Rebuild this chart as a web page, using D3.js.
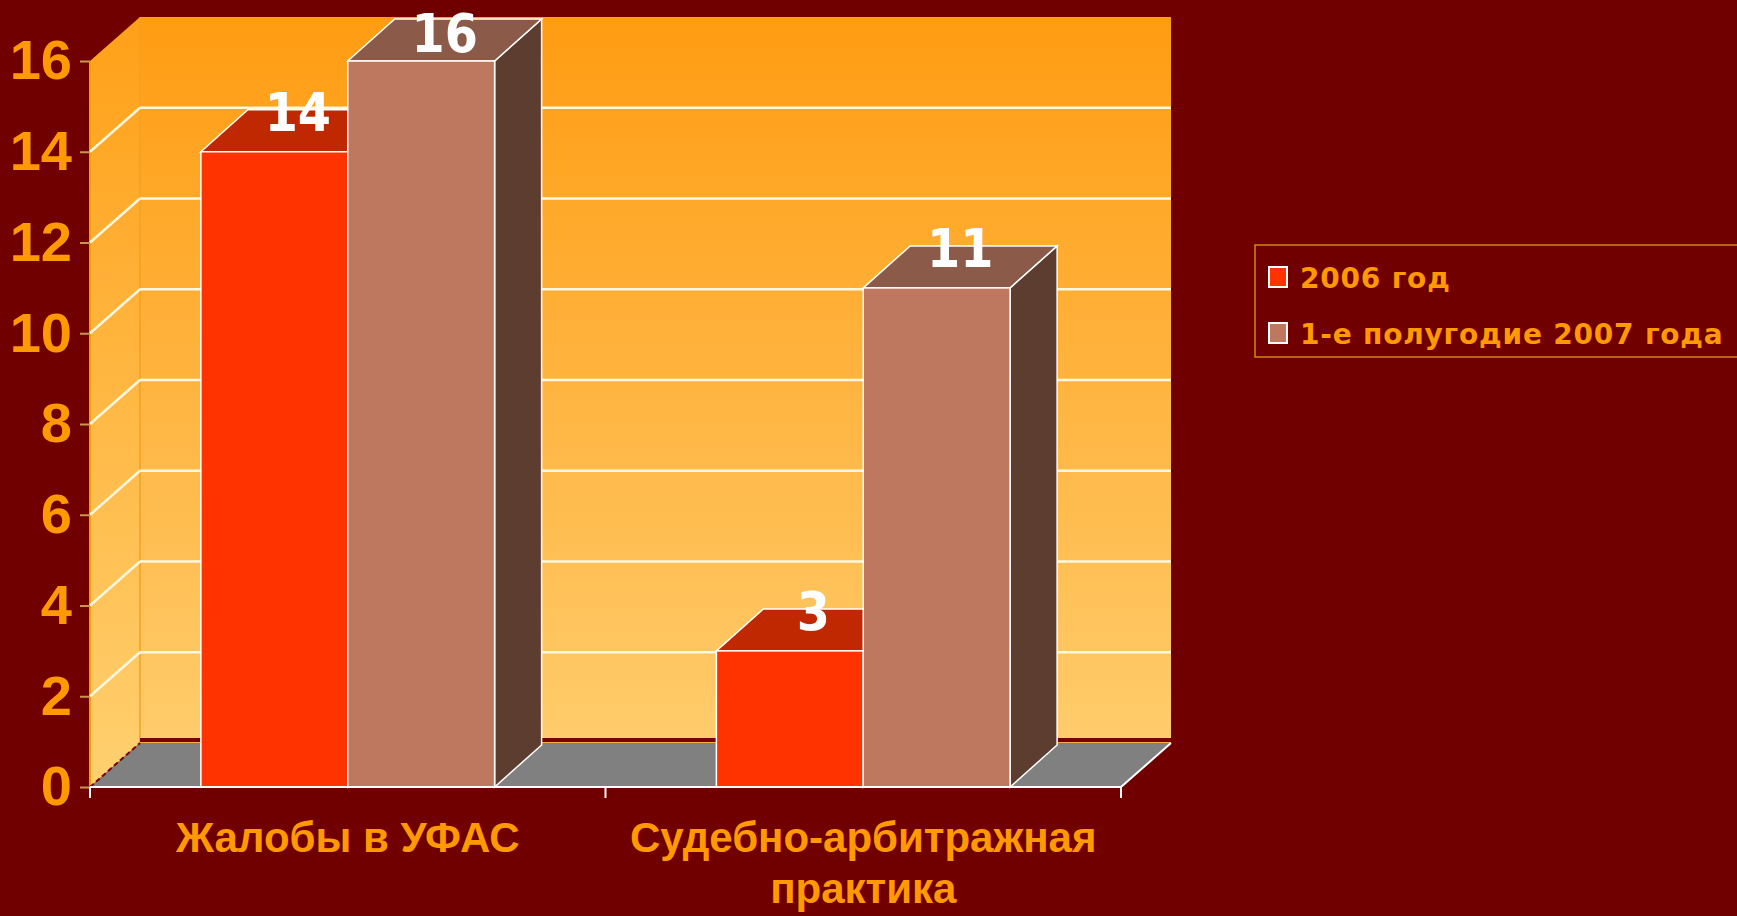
<!DOCTYPE html>
<html>
<head>
<meta charset="utf-8">
<script src="https://cdn.jsdelivr.net/npm/d3@7"></script>
<style>
  body { margin: 0; background: #700000; }
  svg { display: block; }
</style>
</head>
<body>
<div id="grafico"></div>
<script>
// dados
const categorias = ['Жалобы в УФАС', 'Судебно-арбитражная\nпрактика'];
const series = ['2006 год', '1-е полугодие 2007 года'];
const valores2006 = [14, 3];
const valores2007 = [16, 11];
const ticksY = [0, 2, 4, 6, 8, 10, 12, 14, 16];

const cores = [
  { frente: '#FF3300', topo: '#BF2800', lado: '#9A2000' },
  { frente: '#BF7860', topo: '#8C5A48', lado: '#5E3D31' }
];

// configurações
const largura = 1737;
const altura = 916;
const plano = { left: 90, right: 1121, top: 61, bottom: 787 };
const parede = { dx: 50, dy: -44 };
const prof = { dx: 47, dy: -42 };

const svg = d3.select('#grafico')
  .append('svg')
  .attr('width', largura)
  .attr('height', altura);

const y = d3.scaleLinear().domain([0, 16]).range([plano.bottom, plano.top]);
const x0 = d3.scaleBand().domain(categorias).range([plano.left, plano.right]);
const x1 = d3.scaleBand().domain(series).range([0, x0.bandwidth()]).paddingOuter(0.755);

const defs = svg.append('defs');
const grad = defs.append('linearGradient')
  .attr('id', 'fundo')
  .attr('gradientUnits', 'userSpaceOnUse')
  .attr('x1', 0).attr('x2', 0)
  .attr('y1', y(16) + parede.dy).attr('y2', y(0) + parede.dy);
grad.append('stop').attr('offset', 0).attr('stop-color', '#FF9C12');
grad.append('stop').attr('offset', 1).attr('stop-color', '#FFCC6C');

const gradLado = defs.append('linearGradient')
  .attr('id', 'lado')
  .attr('gradientUnits', 'userSpaceOnUse')
  .attr('x1', 0).attr('x2', 0)
  .attr('y1', y(16) + parede.dy).attr('y2', y(0));
gradLado.append('stop').attr('offset', 0).attr('stop-color', '#FFA018');
gradLado.append('stop').attr('offset', 1).attr('stop-color', '#FFD070');

const pts = (arr) => arr.map((p) => p.join(',')).join(' ');

// parede do fundo
const xb0 = plano.left + parede.dx;
const xb1 = plano.right + parede.dx;
svg.append('rect')
  .attr('x', xb0)
  .attr('y', y(16) + parede.dy)
  .attr('width', xb1 - xb0)
  .attr('height', y(0) - y(16))
  .attr('fill', 'url(#fundo)');

// parede lateral
svg.append('polygon')
  .attr('points', pts([
    [plano.left, y(0)], [plano.left, y(16)],
    [xb0, y(16) + parede.dy], [xb0, y(0) + parede.dy]
  ]))
  .attr('fill', 'url(#lado)');
svg.append('line')
  .attr('x1', xb0).attr('x2', xb0)
  .attr('y1', y(16) + parede.dy).attr('y2', y(0) + parede.dy)
  .attr('stroke', '#F4A020').attr('stroke-width', 1.5);
svg.append('line')
  .attr('x1', plano.left).attr('x2', plano.left)
  .attr('y1', y(16)).attr('y2', y(0))
  .attr('stroke', '#F0A000').attr('stroke-width', 2);

// linhas de grade
const grade = ticksY.filter((t) => t > 0 && t < 16);
svg.selectAll('.grade')
  .data(grade)
  .enter()
  .append('line')
  .attr('class', 'grade')
  .attr('x1', xb0).attr('x2', xb1)
  .attr('y1', (d) => y(d) + parede.dy).attr('y2', (d) => y(d) + parede.dy)
  .attr('stroke', '#FFF8E0').attr('stroke-width', 2.5);
svg.selectAll('.grade-lado')
  .data(grade)
  .enter()
  .append('line')
  .attr('class', 'grade-lado')
  .attr('x1', plano.left).attr('x2', xb0)
  .attr('y1', (d) => y(d)).attr('y2', (d) => y(d) + parede.dy)
  .attr('stroke', '#FFF8E0').attr('stroke-width', 2.5);

// faixa escura no fundo do piso
svg.append('rect')
  .attr('x', xb0).attr('y', y(0) + parede.dy - 5)
  .attr('width', xb1 - xb0).attr('height', 4)
  .attr('fill', '#7A0000');
svg.append('line')
  .attr('x1', xb0).attr('x2', xb1)
  .attr('y1', y(0) + parede.dy).attr('y2', y(0) + parede.dy)
  .attr('stroke', '#F0A030').attr('stroke-width', 1.5);

// piso
svg.append('polygon')
  .attr('points', pts([
    [plano.left, y(0)], [plano.right, y(0)],
    [xb1, y(0) + parede.dy], [xb0, y(0) + parede.dy]
  ]))
  .attr('fill', '#808080');
svg.append('line')
  .attr('x1', plano.right).attr('y1', y(0))
  .attr('x2', xb1).attr('y2', y(0) + parede.dy)
  .attr('stroke', '#FFFFFF').attr('stroke-width', 2);
svg.append('line')
  .attr('x1', plano.left).attr('y1', y(0))
  .attr('x2', xb0).attr('y2', y(0) + parede.dy)
  .attr('stroke', '#7A0000').attr('stroke-width', 2)
  .attr('stroke-dasharray', '5,3');

// barras
const dados = categorias.map((c, i) => ({
  cat: c,
  barras: [
    { serie: series[0], valor: valores2006[i], cor: cores[0] },
    { serie: series[1], valor: valores2007[i], cor: cores[1] }
  ]
}));

const grupos = svg.selectAll('.grupo')
  .data(dados)
  .enter()
  .append('g')
  .attr('class', 'grupo');

grupos.each(function (g) {
  const grupo = d3.select(this);
  g.barras.forEach((b) => {
    const xl = x0(g.cat) + x1(b.serie);
    const xr = xl + x1.bandwidth();
    const yt = y(b.valor);
    const yb = y(0);
    grupo.append('polygon')
      .attr('points', pts([[xr, yt], [xr + prof.dx, yt + prof.dy], [xr + prof.dx, yb + prof.dy], [xr, yb]]))
      .attr('fill', b.cor.lado)
      .attr('stroke', '#FFFFFF').attr('stroke-width', 1.5);
    grupo.append('polygon')
      .attr('points', pts([[xl, yt], [xl + prof.dx, yt + prof.dy], [xr + prof.dx, yt + prof.dy], [xr, yt]]))
      .attr('fill', b.cor.topo)
      .attr('stroke', '#FFFFFF').attr('stroke-width', 1.5);
    grupo.append('rect')
      .attr('x', xl).attr('y', yt)
      .attr('width', xr - xl).attr('height', yb - yt)
      .attr('fill', b.cor.frente)
      .attr('stroke', '#FFFFFF').attr('stroke-width', 1.5);
  });
});

// rótulos das barras
const todas = dados.flatMap((g) => g.barras.map((b) => ({ ...b, cat: g.cat })));
svg.selectAll('.rotulo')
  .data(todas)
  .enter()
  .append('text')
  .attr('class', 'rotulo')
  .attr('x', (d) => x0(d.cat) + x1(d.serie) + x1.bandwidth() / 2 + prof.dx / 2)
  .attr('y', (d) => Math.max(y(d.valor) + prof.dy / 2, 52))
  .attr('text-anchor', 'middle')
  .attr('font-family', '"DejaVu Sans Condensed", "DejaVu Sans", sans-serif')
  .attr('font-stretch', 'condensed')
  .attr('font-weight', 'bold')
  .attr('font-size', 53)
  .attr('fill', '#FFFFFF')
  .text((d) => d.valor);

// eixo Y
const eixoY = svg.append('g')
  .attr('transform', `translate(${plano.left},0)`)
  .call(d3.axisLeft(y).tickValues(ticksY).tickSize(10).tickPadding(8));
eixoY.select('.domain').remove();
eixoY.selectAll('line').attr('stroke', '#C89650').attr('stroke-width', 2);
eixoY.selectAll('text')
  .attr('font-family', '"Liberation Sans", Arial, sans-serif')
  .attr('font-weight', 'bold')
  .attr('font-size', 56)
  .attr('fill', '#FF9900');

// eixo X
svg.append('line')
  .attr('x1', plano.left).attr('x2', plano.right)
  .attr('y1', y(0)).attr('y2', y(0))
  .attr('stroke', '#FFFFFF').attr('stroke-width', 2);
const divisas = categorias.map((c) => x0(c)).concat([plano.right]);
svg.selectAll('.tick-x')
  .data(divisas)
  .enter()
  .append('line')
  .attr('class', 'tick-x')
  .attr('x1', (d) => d).attr('x2', (d) => d)
  .attr('y1', y(0)).attr('y2', y(0) + 11)
  .attr('stroke', '#FFFFFF').attr('stroke-width', 2);

const rotX = svg.selectAll('.cat')
  .data(categorias)
  .enter()
  .append('text')
  .attr('class', 'cat')
  .attr('text-anchor', 'middle')
  .attr('font-family', '"Liberation Sans", Arial, sans-serif')
  .attr('font-weight', 'bold')
  .attr('font-size', 42)
  .attr('fill', '#FF9900');
rotX.selectAll('tspan')
  .data((d) => d.split('\n').map((t) => ({ t, c: d })))
  .enter()
  .append('tspan')
  .attr('x', (d) => x0(d.c) + x0.bandwidth() / 2)
  .attr('y', (d, i) => 852 + i * 51)
  .text((d) => d.t);

// legenda
const legenda = svg.append('g').attr('transform', 'translate(1255,245)');
legenda.append('rect')
  .attr('x', 0).attr('y', 0)
  .attr('width', 520).attr('height', 112)
  .attr('fill', 'none')
  .attr('stroke', '#D08A10').attr('stroke-width', 1.5);
const itens = legenda.selectAll('.item')
  .data(series)
  .enter()
  .append('g')
  .attr('class', 'item')
  .attr('transform', (d, i) => `translate(0,${33 + i * 56})`);
itens.append('rect')
  .attr('x', 14).attr('y', -11)
  .attr('width', 18).attr('height', 20)
  .attr('fill', (d, i) => cores[i].frente)
  .attr('stroke', '#FFFFFF').attr('stroke-width', 2);
itens.append('text')
  .attr('x', 45).attr('y', 10)
  .attr('font-family', '"DejaVu Sans", sans-serif')
  .attr('font-weight', 'bold')
  .attr('font-size', 28)
  .attr('letter-spacing', 0.8)
  .attr('fill', '#FF9900')
  .text((d) => d);
</script>
</body>
</html>
